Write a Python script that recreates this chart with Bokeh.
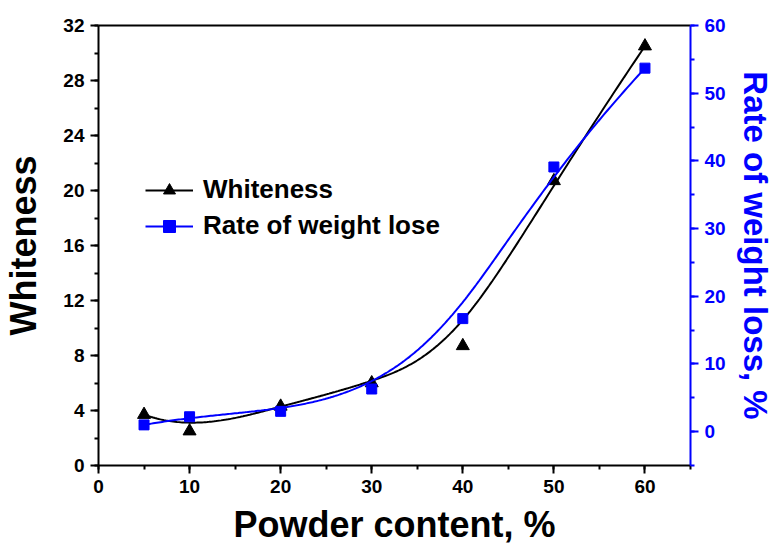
import numpy as np
from bokeh.plotting import figure
from bokeh.models import (Range1d, LinearAxis, SingleIntervalTicker, FixedTicker,
                          Legend, LegendItem)
from bokeh.embed import file_html
from bokeh.resources import INLINE

# ---- data ----
powder_content = [5, 10, 20, 30, 40, 50, 60]
whiteness = [3.7, 2.5, 4.3, 6.0, 8.7, 20.7, 30.5]
weight_loss = [1.0, 2.2, 3.0, 6.3, 16.7, 39.1, 53.7]

FONT = "Liberation Sans"
BLUE = "#0000FF"


def bspline(xs, ys, num=300, k=3):
    """Clamped cubic B-spline using data points as control points (Origin-style)."""
    P = np.column_stack([xs, ys]).astype(float)
    n = len(P)
    knots = np.concatenate([[0] * k, np.arange(n - k + 1), [n - k] * k]).astype(float)
    ts = np.linspace(0, n - k, num)
    ts[-1] -= 1e-9

    def N(i, p, t):
        if p == 0:
            return 1.0 if knots[i] <= t < knots[i + 1] else 0.0
        a = 0.0
        d1 = knots[i + p] - knots[i]
        if d1 > 0:
            a = (t - knots[i]) / d1 * N(i, p - 1, t)
        b = 0.0
        d2 = knots[i + p + 1] - knots[i + 1]
        if d2 > 0:
            b = (knots[i + p + 1] - t) / d2 * N(i + 1, p - 1, t)
        return a + b

    out = np.array([sum(N(i, k, t) * P[i] for i in range(n)) for t in ts])
    return out[:, 0], out[:, 1]


p = figure(width=776, height=552, output_backend="svg", toolbar_location=None,
           x_range=Range1d(0, 65), y_range=Range1d(0, 32),
           min_border_left=98, min_border_right=84, min_border_top=25,
           min_border_bottom=87, outline_line_color=None,
           background_fill_color="white", border_fill_color="white")
p.grid.visible = False
p.extra_y_ranges = {"right": Range1d(-5, 60)}

# curves
wx, wy = bspline(powder_content, whiteness)
lx, ly = bspline(powder_content, weight_loss)
l1 = p.line(wx, wy, line_color="black", line_width=2)
s1 = p.scatter(powder_content, whiteness, marker="triangle", size=13,
               fill_color="black", line_color="black")
l2 = p.line(lx, ly, line_color=BLUE, line_width=2, y_range_name="right")
s2 = p.scatter(powder_content, weight_loss, marker="square", size=10,
               fill_color=BLUE, line_color=BLUE, y_range_name="right")


def style(ax, color, tick_size="19px", title_size="36px"):
    ax.axis_line_color = color
    ax.axis_line_width = 2
    ax.major_tick_line_color = color
    ax.major_tick_line_width = 2
    ax.minor_tick_line_color = color
    ax.minor_tick_line_width = 2
    ax.major_tick_out = 8
    ax.major_tick_in = 0
    ax.minor_tick_out = 4
    ax.minor_tick_in = 0
    ax.major_label_text_font = FONT
    ax.major_label_text_font_style = "bold"
    ax.major_label_text_font_size = tick_size
    ax.major_label_text_color = color
    ax.axis_label_text_font = FONT
    ax.axis_label_text_font_style = "bold"
    ax.axis_label_text_font_size = title_size
    ax.axis_label_text_color = color


xax = p.xaxis[0]
xax.ticker = SingleIntervalTicker(interval=10, num_minor_ticks=2)
xax.axis_label = "Powder content, %"
style(xax, "black")
xax.major_label_standoff = 6
xax.axis_label_standoff = 8

yax = p.yaxis[0]
yax.ticker = SingleIntervalTicker(interval=4, num_minor_ticks=2)
yax.axis_label = "Whiteness"
style(yax, "black")
yax.major_label_standoff = 6
yax.axis_label_standoff = 16

rax = LinearAxis(y_range_name="right", axis_label="Rate of weight loss, %",
                 ticker=SingleIntervalTicker(interval=10, num_minor_ticks=2))
style(rax, BLUE, title_size="33px")
rax.major_label_standoff = 6
rax.axis_label_standoff = 8
p.add_layout(rax, "right")

tax = LinearAxis(ticker=FixedTicker(ticks=[]))
tax.axis_line_color = "black"
tax.axis_line_width = 2
tax.major_tick_line_color = None
tax.minor_tick_line_color = None
tax.major_label_text_color = None
p.add_layout(tax, "above")

legend = Legend(items=[LegendItem(label="Whiteness", renderers=[l1, s1]),
                       LegendItem(label="Rate of weight lose", renderers=[l2, s2])],
                location=(47, 224), orientation="vertical",
                label_text_font=FONT, label_text_font_style="bold",
                label_text_font_size="26px", label_text_color="black",
                glyph_width=48, glyph_height=30,
                label_height=30, spacing=5, padding=0, margin=0,
                border_line_color=None, background_fill_alpha=0,
                label_standoff=10)
p.add_layout(legend)

open("out.html", "w").write(file_html(p, INLINE))
